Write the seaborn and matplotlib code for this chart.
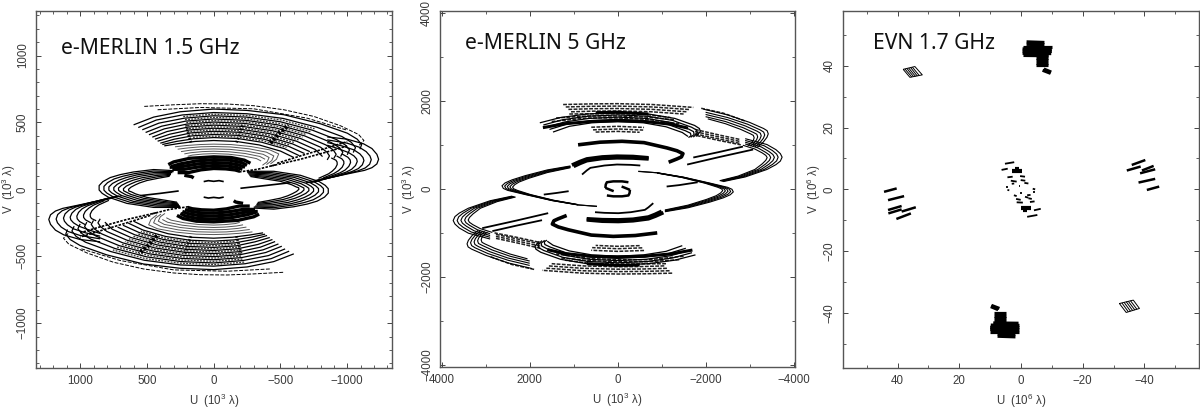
import pandas as pd
import seaborn as sns
import matplotlib.pyplot as plt
from matplotlib.ticker import MultipleLocator

# values, U and V in the units of each panel

# ---- e-MERLIN 1.5 GHz ----
m15_top_solid = [
    [(600,482),(450,540),(250,580),(0,600),(-250,590),(-525,558),(-800,490),(-1000,420),(-1075,375),(-1108,335),(-1095,300)],
    [(565,462),(430,518),(235,556),(0,574),(-250,565),(-520,530),(-770,465),(-960,395),(-1030,352),(-1062,312),(-1045,275)],
    [(535,445),(410,495),(220,532),(0,550),(-245,540),(-500,505),(-740,442),(-920,372),(-985,332),(-1017,295),(-1000,258)],
    [(510,425),(390,472),(210,510),(0,526),(-240,516),(-480,482),(-710,420),(-880,350),(-940,312),(-967,278),(-950,245)],
    [(485,408),(370,452),(200,488),(0,503),(-230,493),(-460,460),(-680,400),(-840,332),(-895,295),(-917,262),(-900,232)],
    [(460,390),(350,432),(190,466),(0,480),(-220,470),(-440,438),(-650,380),(-800,315),(-848,278),(-867,250),(-850,220)],
    [(440,375),(330,412),(180,444),(0,457),(-210,448),(-420,416),(-620,360),(-760,298),(-815,245)],
    [(420,360),(310,392),(170,422),(0,434),(-200,426),(-400,395),(-590,340),(-720,282)],
    [(400,345),(295,375),(160,400),(0,410),(-190,403),(-380,374),(-560,322),(-680,268)],
    [(385,335),(280,358),(150,378),(0,387),(-180,380),(-360,352),(-530,304),(-640,252)],
    [(370,325),(265,342),(140,358),(0,365),(-170,358),(-340,332),(-500,286),(-600,238)],
]
m15_bot_solid = [
    [(-600,-482),(-450,-540),(-250,-580),(0,-600),(250,-590),(525,-558),(800,-490),(1000,-420),(1075,-375),(1108,-335),(1095,-300)],
    [(-565,-462),(-430,-518),(-235,-556),(0,-574),(250,-565),(520,-530),(770,-465),(960,-395),(1030,-352),(1062,-312),(1045,-275)],
    [(-535,-445),(-410,-495),(-220,-532),(0,-550),(245,-540),(500,-505),(740,-442),(920,-372),(985,-332),(1017,-295),(1000,-258)],
    [(-510,-425),(-390,-472),(-210,-510),(0,-526),(240,-516),(480,-482),(710,-420),(880,-350),(940,-312),(967,-278),(950,-245)],
    [(-485,-408),(-370,-452),(-200,-488),(0,-503),(230,-493),(460,-460),(680,-400),(840,-332),(895,-295),(917,-262),(900,-232)],
    [(-460,-390),(-350,-432),(-190,-466),(0,-480),(220,-470),(440,-438),(650,-380),(800,-315),(848,-278),(867,-250),(850,-220)],
    [(-440,-375),(-330,-412),(-180,-444),(0,-457),(210,-448),(420,-416),(620,-360),(760,-298),(815,-245)],
    [(-420,-360),(-310,-392),(-170,-422),(0,-434),(200,-426),(400,-395),(590,-340),(720,-282)],
    [(-400,-345),(-295,-375),(-160,-400),(0,-410),(190,-403),(380,-374),(560,-322),(680,-268)],
    [(-385,-335),(-280,-358),(-150,-378),(0,-387),(180,-380),(360,-352),(530,-304),(640,-252)],
    [(-370,-325),(-265,-342),(-140,-358),(0,-365),(170,-358),(340,-332),(500,-286),(600,-238)],
]
m15_outer_dash = [
    [(520,620),(300,632),(100,640),(-100,638),(-300,625),(-525,595),(-750,545),(-950,475),(-1085,410),(-1125,365),(-1090,330)],
    [(420,595),(100,612),(-300,602),(-700,532),(-1000,442)],
    [(-520,-620),(-300,-632),(-100,-640),(100,-638),(300,-625),(525,-595),(750,-545),(950,-475),(1085,-410),(1125,-365),(1090,-330)],
    [(-420,-595),(-100,-612),(300,-602),(700,-532),(1000,-442)],
]
m15_mid_dash = [
    [(228,544),(0,562),(-248,552),(-510,518),(-755,453)],
    [(215,521),(0,538),(-242,528),(-490,493),(-725,431)],
    [(205,499),(0,514),(-235,505),(-470,471),(-695,410)],
    [(195,477),(0,491),(-225,481),(-450,449),(-665,390)],
    [(185,455),(0,468),(-215,459),(-430,427),(-635,370)],
    [(175,433),(0,445),(-205,437),(-410,405),(-605,350)],
    [(165,411),(0,422),(-195,414),(-390,384),(-575,331)],
    [(155,389),(0,398),(-185,391),(-370,363),(-545,313)],
    [(-228,-544),(0,-562),(248,-552),(510,-518),(755,-453)],
    [(-215,-521),(0,-538),(242,-528),(490,-493),(725,-431)],
    [(-205,-499),(0,-514),(235,-505),(470,-471),(695,-410)],
    [(-195,-477),(0,-491),(225,-481),(450,-449),(665,-390)],
    [(-185,-455),(0,-468),(215,-459),(430,-427),(635,-370)],
    [(-175,-433),(0,-445),(205,-437),(410,-405),(605,-350)],
    [(-165,-411),(0,-422),(195,-414),(390,-384),(575,-331)],
    [(-155,-389),(0,-398),(185,-391),(370,-363),(545,-313)],
]
m15_hatch = [
    [(-425,345),(-490,420),(-560,480)],
    [(425,-345),(490,-420),(560,-480)],
]
m15_hatch_small = [
    [(-170,350),(-190,400),(-215,480)],
    [(170,-350),(190,-400),(215,-480)],
    [(170,350),(185,400),(205,480)],
    [(-170,-350),(-185,-400),(-205,-480)],
]
m15_curl = [
    [(-850,392),(-1000,375),(-1123,340),(-1185,305),(-1222,262),(-1235,225),(-1222,190),(-1185,162),(-1130,142),(-1000,115),(-875,88),(-750,55)],
    [(-850,370),(-1000,345),(-1090,315),(-1142,282),(-1170,250),(-1180,222),(-1168,188),(-1135,160),(-1080,138),(-960,108),(-850,82),(-730,52)],
    [(-850,350),(-960,325),(-1050,295),(-1095,265),(-1118,238),(-1125,215),(-1113,183),(-1083,155),(-1035,133),(-925,100),(-820,75),(-710,50)],
    [(-850,330),(-930,305),(-1010,275),(-1050,250),(-1070,228),(-1075,208),(-1062,178),(-1033,150),(-990,128),(-890,95),(-790,70),(-690,48)],
    [(-960,265),(-1005,240),(-1022,220),(-1025,200),(-1012,172),(-985,145),(-945,123),(-855,90),(-760,65)],
    [(-920,250),(-960,228),(-974,210),(-975,192),(-962,165),(-935,140),(-900,118),(-820,85)],
    [(-880,235),(-915,218),(-924,204),(-925,186),(-912,160),(-888,136),(-860,116),(-785,82)],
    [(850,-392),(1000,-375),(1123,-340),(1185,-305),(1222,-262),(1235,-225),(1222,-190),(1185,-162),(1130,-142),(1000,-115),(875,-88),(750,-55)],
    [(850,-370),(1000,-345),(1090,-315),(1142,-282),(1170,-250),(1180,-222),(1168,-188),(1135,-160),(1080,-138),(960,-108),(850,-82),(730,-52)],
    [(850,-350),(960,-325),(1050,-295),(1095,-265),(1118,-238),(1125,-215),(1113,-183),(1083,-155),(1035,-133),(925,-100),(820,-75),(710,-50)],
    [(850,-330),(930,-305),(1010,-275),(1050,-250),(1070,-228),(1075,-208),(1062,-178),(1033,-150),(990,-128),(890,-95),(790,-70),(690,-48)],
    [(960,-265),(1005,-240),(1022,-220),(1025,-200),(1012,-172),(985,-145),(945,-123),(855,-90),(760,-65)],
    [(920,-250),(960,-228),(974,-210),(975,-192),(962,-165),(935,-140),(900,-118),(820,-85)],
    [(880,-235),(915,-218),(924,-204),(925,-186),(912,-160),(888,-136),(860,-116),(785,-82)],
]
m15_strip = [
    [(-475,195),(-650,250),(-850,310),(-1000,357)],
    [(-430,175),(-650,225),(-850,280),(-1000,325)],
    [(-190,130),(-330,150),(-470,185)],
    [(475,-195),(650,-250),(850,-310),(1000,-357)],
    [(430,-175),(650,-225),(850,-280),(1000,-325)],
    [(190,-130),(330,-150),(470,-185)],
]
m15_grey = [
    [(290,318),(200,328),(100,335),(0,338),(-130,335),(-280,320),(-420,295),(-487,265),(-470,225),(-425,190)],
    [(270,300),(190,310),(95,318),(0,320),(-125,317),(-265,303),(-395,278),(-450,250),(-435,215),(-395,185)],
    [(245,282),(180,292),(90,300),(0,302),(-120,299),(-250,285),(-370,262),(-415,238),(-400,205),(-365,180)],
    [(220,265),(170,274),(85,282),(0,285),(-115,281),(-235,268),(-345,246),(-385,225)],
    [(195,247),(160,256),(80,264),(0,267),(-110,263),(-220,250),(-320,230),(-355,212)],
    [(-290,-318),(-200,-328),(-100,-335),(0,-338),(130,-335),(280,-320),(420,-295),(487,-265),(470,-225),(425,-190)],
    [(-270,-300),(-190,-310),(-95,-318),(0,-320),(125,-317),(265,-303),(395,-278),(450,-250),(435,-215),(395,-185)],
    [(-245,-282),(-180,-292),(-90,-300),(0,-302),(120,-299),(250,-285),(370,-262),(415,-238),(400,-205),(365,-180)],
    [(-220,-265),(-170,-274),(-85,-282),(0,-285),(115,-281),(235,-268),(345,-246),(385,-225)],
    [(-195,-247),(-160,-256),(-80,-264),(0,-267),(110,-263),(220,-250),(320,-230),(355,-212)],
]
m15_black = [
    [(340,185),(300,205),(180,232),(0,243),(-130,238),(-230,218),(-275,195)],
    [(320,170),(250,190),(130,212),(0,222),(-120,218),(-210,200),(-250,180)],
    [(330,165),(240,170),(120,190),(0,200),(-110,196),(-190,182),(-235,165)],
    [(310,150),(220,150),(110,168),(0,178),(-100,175),(-175,163),(-215,150)],
    [(270,125),(190,125),(95,146),(0,156),(-90,153),(-160,145),(-195,135)],
    [(220,105),(165,95),(150,85)],
    [(-340,-185),(-300,-205),(-180,-232),(0,-243),(130,-238),(230,-218),(275,-195)],
    [(-320,-170),(-250,-190),(-130,-212),(0,-222),(120,-218),(210,-200),(250,-180)],
    [(-330,-165),(-240,-170),(-120,-190),(0,-200),(110,-196),(190,-182),(235,-165)],
    [(-310,-150),(-220,-150),(-110,-168),(0,-178),(100,-175),(175,-163),(215,-150)],
    [(-270,-125),(-190,-125),(-95,-146),(0,-156),(90,-153),(160,-145),(195,-135)],
    [(-220,-105),(-165,-95),(-150,-85)],
]
m15_ring = [
    [(300,140),(450,148),(600,130),(700,110),(775,88),(830,58),(858,28),(858,-5),(835,-30),(790,-58),(650,-105),(450,-135),(250,-135)],
    [(300,132),(450,137),(590,118),(680,98),(745,78),(795,50),(822,22),(822,-6),(800,-28),(755,-55),(625,-97),(435,-125),(250,-128)],
    [(310,125),(445,126),(575,108),(655,88),(712,68),(758,44),(785,18),(785,-6),(764,-26),(722,-50),(600,-90),(420,-116),(255,-122)],
    [(320,118),(440,115),(560,97),(630,78),(680,60),(722,38),(748,14),(748,-6),(728,-24),(690,-46),(575,-82),(405,-107),(260,-115)],
    [(320,112),(430,104),(540,86),(605,68),(650,50),(690,30),(713,10),(712,-8),(692,-22),(655,-42),(550,-75),(390,-98),(265,-108)],
    [(325,105),(420,94),(520,76),(580,58),(618,42),(655,24),(676,5),(675,-10),(656,-20),(620,-38),(525,-67),(375,-90),(270,-102)],
    [(330,98),(410,84),(500,66),(555,48),(590,32),(620,16),(638,0),(636,-12),(618,-18),(585,-34),(500,-60),(360,-82),(275,-96)],
    [(-300,-140),(-450,-148),(-600,-130),(-700,-110),(-775,-88),(-830,-58),(-858,-28),(-858,5),(-835,30),(-790,58),(-650,105),(-450,135),(-250,135)],
    [(-300,-132),(-450,-137),(-590,-118),(-680,-98),(-745,-78),(-795,-50),(-822,-22),(-822,6),(-800,28),(-755,55),(-625,97),(-435,125),(-250,128)],
    [(-310,-125),(-445,-126),(-575,-108),(-655,-88),(-712,-68),(-758,-44),(-785,-18),(-785,6),(-764,26),(-722,50),(-600,90),(-420,116),(-255,122)],
    [(-320,-118),(-440,-115),(-560,-97),(-630,-78),(-680,-60),(-722,-38),(-748,-14),(-748,6),(-728,24),(-690,46),(-575,82),(-405,107),(-260,115)],
    [(-320,-112),(-430,-104),(-540,-86),(-605,-68),(-650,-50),(-690,-30),(-713,-10),(-712,8),(-692,22),(-655,42),(-550,75),(-390,98),(-265,108)],
    [(-325,-105),(-420,-94),(-520,-76),(-580,-58),(-618,-42),(-655,-24),(-676,-5),(-675,10),(-656,20),(-620,38),(-525,67),(-375,90),(-270,102)],
    [(-330,-98),(-410,-84),(-500,-66),(-555,-48),(-590,-32),(-620,-16),(-638,0),(-636,12),(-618,18),(-585,34),(-500,60),(-360,82),(-275,96)],
]
m15_spokes = [
    [(550,-47),(400,-30),(262,-12)],
    [(-200,8),(-400,30),(-575,50)],
    [(75,58),(40,65),(0,60),(-40,65),(-75,58)],
    [(75,-58),(40,-65),(0,-60),(-40,-65),(-75,-58)],
]

# ---- e-MERLIN 5 GHz ----
m5_dash_rows = [
    [(1240,1915),(600,1930),(0,1935),(-800,1915),(-1720,1850)],
    [(1180,1860),(600,1875),(0,1880),(-800,1860),(-1650,1800)],
    [(1120,1805),(600,1820),(0,1825),(-800,1805),(-1580,1750)],
    [(1060,1750),(550,1765),(0,1770),(-750,1752),(-1500,1700)],
    [(1100,1700),(550,1705),(0,1705),(-600,1695),(-1200,1620)],
    [(1400,1610),(700,1655),(0,1655),(-650,1630),(-1300,1570)],
    [(1500,1530),(700,1610),(0,1610),(-650,1580),(-1400,1480)],
    [(600,1400),(0,1420),(-600,1395)],
    [(560,1340),(0,1360),(-580,1335)],
    [(500,1290),(0,1305),(-500,1285)],
    [(-1900,1830),(-2400,1720),(-2900,1540)],
    [(-1760,1350),(-2300,1225),(-2790,1120)],
    [(-1760,1300),(-2300,1180),(-2790,1075)],
    [(-1760,1250),(-2300,1135),(-2790,1030)],
    [(-1800,1210),(-2300,1100),(-2800,1000)],
    [(-1240,-1915),(-600,-1930),(0,-1935),(800,-1915),(1720,-1850)],
    [(-1180,-1860),(-600,-1875),(0,-1880),(800,-1860),(1650,-1800)],
    [(-1120,-1805),(-600,-1820),(0,-1825),(800,-1805),(1580,-1750)],
    [(-1060,-1750),(-550,-1765),(0,-1770),(750,-1752),(1500,-1700)],
    [(-1100,-1700),(-550,-1705),(0,-1705),(600,-1695),(1200,-1620)],
    [(-1400,-1610),(-700,-1655),(0,-1655),(650,-1630),(1300,-1570)],
    [(-1500,-1530),(-700,-1610),(0,-1610),(650,-1580),(1400,-1480)],
    [(-600,-1400),(0,-1420),(600,-1395)],
    [(-560,-1340),(0,-1360),(580,-1335)],
    [(-500,-1290),(0,-1305),(500,-1285)],
    [(1900,-1830),(2400,-1720),(2900,-1540)],
    [(1760,-1350),(2300,-1225),(2790,-1120)],
    [(1760,-1300),(2300,-1180),(2790,-1075)],
    [(1760,-1250),(2300,-1135),(2790,-1030)],
    [(1800,-1210),(2300,-1100),(2800,-1000)],
]
m5_top_arcs = [
    [(1770,1500),(1300,1620),(700,1700),(0,1730),(-700,1700),(-1300,1600),(-1750,1440),(-1860,1370),(-1880,1300),(-1780,1190)],
    [(1690,1450),(1250,1570),(680,1650),(0,1680),(-680,1650),(-1250,1555),(-1680,1400),(-1795,1335),(-1810,1265),(-1720,1175)],
    [(1620,1400),(1200,1520),(650,1600),(0,1630),(-650,1600),(-1200,1510),(-1610,1360),(-1725,1300),(-1740,1235),(-1660,1170)],
    [(1550,1350),(1150,1470),(620,1550),(0,1580),(-620,1550),(-1150,1460),(-1540,1320),(-1655,1265),(-1670,1205),(-1610,1165)],
    [(1470,1290),(1100,1420),(590,1500),(0,1530),(-590,1500),(-1100,1410),(-1470,1280),(-1600,1190)],
    [(-1770,-1500),(-1300,-1620),(-700,-1700),(0,-1730),(700,-1700),(1300,-1600),(1750,-1440),(1860,-1370),(1880,-1300),(1780,-1190)],
    [(-1690,-1450),(-1250,-1570),(-680,-1650),(0,-1680),(680,-1650),(1250,-1555),(1680,-1400),(1795,-1335),(1810,-1265),(1720,-1175)],
    [(-1620,-1400),(-1200,-1520),(-650,-1600),(0,-1630),(650,-1600),(1200,-1510),(1610,-1360),(1725,-1300),(1740,-1235),(1660,-1170)],
    [(-1550,-1350),(-1150,-1470),(-620,-1550),(0,-1580),(620,-1550),(1150,-1460),(1540,-1320),(1655,-1265),(1670,-1205),(1610,-1165)],
    [(-1470,-1290),(-1100,-1420),(-590,-1500),(0,-1530),(590,-1500),(1100,-1410),(1470,-1280),(1600,-1190)],
]
m5_dark_rows = [
    [(1700,1390),(1200,1480),(600,1530),(0,1545),(-600,1530),(-1200,1470),(-1600,1380)],
    [(500,1730),(0,1740),(-700,1700)],
    [(-1700,-1390),(-1200,-1480),(-600,-1530),(0,-1545),(600,-1530),(1200,-1470),(1600,-1380)],
    [(-500,-1730),(0,-1740),(700,-1700)],
]
m5_side_arcs = [
    [(-1950,1810),(-2500,1680),(-3000,1510),(-3320,1370),(-3400,1320),(-3425,1250),(-3395,1170),(-3310,1060),(-3170,940)],
    [(-2000,1740),(-2500,1620),(-2950,1470),(-3240,1340),(-3320,1290),(-3345,1225),(-3315,1150),(-3240,1055),(-3120,950)],
    [(-2000,1690),(-2500,1570),(-2900,1430),(-3170,1310),(-3245,1265),(-3265,1205),(-3235,1130),(-3170,1050),(-3070,960)],
    [(-2000,1640),(-2450,1530),(-2850,1390),(-3090,1280),(-3165,1240),(-3185,1180),(-3160,1115),(-3105,1045),(-3020,970)],
    [(-2050,1590),(-2450,1480),(-2800,1350),(-3020,1250),(-3085,1215),(-3105,1160),(-3085,1100),(-3035,1040),(-2960,980)],
    [(1950,-1810),(2500,-1680),(3000,-1510),(3320,-1370),(3400,-1320),(3425,-1250),(3395,-1170),(3310,-1060),(3170,-940)],
    [(2000,-1740),(2500,-1620),(2950,-1470),(3240,-1340),(3320,-1290),(3345,-1225),(3315,-1150),(3240,-1055),(3120,-950)],
    [(2000,-1690),(2500,-1570),(2900,-1430),(3170,-1310),(3245,-1265),(3265,-1205),(3235,-1130),(3170,-1050),(3070,-960)],
    [(2000,-1640),(2450,-1530),(2850,-1390),(3090,-1280),(3165,-1240),(3185,-1180),(3160,-1115),(3105,-1045),(3020,-970)],
    [(2050,-1590),(2450,-1480),(2800,-1350),(3020,-1250),(3085,-1215),(3105,-1160),(3085,-1100),(3035,-1040),(2960,-980)],
    [(-2900,1140),(-3395,1007),(-3600,890),(-3700,800),(-3740,720),(-3700,630),(-3600,550),(-3395,440),(-2900,270),(-2400,165)],
    [(-2900,1100),(-3330,980),(-3520,870),(-3615,790),(-3650,720),(-3615,635),(-3520,555),(-3330,440),(-2860,275),(-2380,170)],
    [(-2900,1060),(-3260,955),(-3440,850),(-3530,780),(-3565,715),(-3530,640),(-3440,560),(-3260,440),(-2820,280),(-2360,175)],
    [(-2900,1020),(-3190,930),(-3365,830),(-3450,770),(-3480,712),(-3450,645),(-3365,565),(-3190,440),(-2780,285),(-2340,180)],
    [(-2850,990),(-3120,905),(-3290,815),(-3370,760),(-3400,710),(-3370,650),(-3290,570),(-3120,440),(-2740,290),(-2320,185)],
    [(2900,-1140),(3395,-1007),(3600,-890),(3700,-800),(3740,-720),(3700,-630),(3600,-550),(3395,-440),(2900,-270),(2400,-165)],
    [(2900,-1100),(3330,-980),(3520,-870),(3615,-790),(3650,-720),(3615,-635),(3520,-555),(3330,-440),(2860,-275),(2380,-170)],
    [(2900,-1060),(3260,-955),(3440,-850),(3530,-780),(3565,-715),(3530,-640),(3440,-560),(3260,-440),(2820,-280),(2360,-175)],
    [(2900,-1020),(3190,-930),(3365,-830),(3450,-770),(3480,-712),(3450,-645),(3365,-565),(3190,-440),(2780,-285),(2340,-180)],
    [(2850,-990),(3120,-905),(3290,-815),(3370,-760),(3400,-710),(3370,-650),(3290,-570),(3120,-440),(2740,-290),(2320,-185)],
]
m5_ring = [
    [(1075,520),(1600,430),(2100,300),(2400,205),(2560,135),(2630,70),(2600,10),(2500,-35),(2100,-130),(1500,-265),(900,-365),(470,-400)],
    [(1075,510),(1600,415),(2080,285),(2360,192),(2505,125),(2570,62),(2540,8),(2445,-35),(2070,-130),(1490,-265),(900,-365),(470,-395)],
    [(1075,500),(1600,400),(2060,270),(2320,180),(2450,115),(2510,55),(2482,6),(2390,-35),(2040,-130),(1480,-262),(900,-362)],
    [(1075,490),(1600,385),(2040,255),(2280,168),(2395,105),(2450,48),(2424,4),(2335,-35),(2010,-130),(1470,-260),(900,-360)],
    [(1075,480),(1600,370),(2020,240),(2240,156),(2340,95),(2390,40),(2366,2),(2280,-35),(1980,-130),(1460,-258),(900,-358)],
    [(-1075,-520),(-1600,-430),(-2100,-300),(-2400,-205),(-2560,-135),(-2630,-70),(-2600,-10),(-2500,35),(-2100,130),(-1500,265),(-900,365),(-470,400)],
    [(-1075,-510),(-1600,-415),(-2080,-285),(-2360,-192),(-2505,-125),(-2570,-62),(-2540,-8),(-2445,35),(-2070,130),(-1490,265),(-900,365),(-470,395)],
    [(-1075,-500),(-1600,-400),(-2060,-270),(-2320,-180),(-2450,-115),(-2510,-55),(-2482,-6),(-2390,35),(-2040,130),(-1480,262),(-900,362)],
    [(-1075,-490),(-1600,-385),(-2040,-255),(-2280,-168),(-2395,-105),(-2450,-48),(-2424,-4),(-2335,35),(-2010,130),(-1470,260),(-900,360)],
    [(-1075,-480),(-1600,-370),(-2020,-240),(-2240,-156),(-2340,-95),(-2390,-40),(-2366,-2),(-2280,35),(-1980,130),(-1460,258),(-900,358)],
]
m5_thin = [
    [(810,325),(700,420),(620,477),(300,530),(15,553),(-300,545),(-515,530)],
    [(-810,-325),(-700,-420),(-620,-477),(-300,-530),(-15,-553),(300,-545),(515,-530)],
    [(-1720,712),(-2300,835),(-2850,960)],
    [(-1580,552),(-2300,720),(-3080,893)],
    [(1720,-712),(2300,-835),(2850,-960)],
    [(1580,-552),(2300,-720),(3080,-893)],
    [(1680,-130),(1400,-95),(1114,-53)],
    [(-1114,53),(-1400,85),(-1820,150)],
]
m5_thick = [
    [(900,1000),(400,1060),(-100,1080),(-600,1050),(-1120,930),(-1350,865),(-1485,800),(-1450,725),(-1350,680),(-1160,605)],
    [(-900,-1000),(-400,-1060),(100,-1080),(600,-1050),(1120,-930),(1350,-865),(1485,-800),(1450,-725),(1350,-680),(1160,-605)],
    [(1040,540),(860,620),(700,680),(350,725),(15,742),(-350,735),(-705,705)],
    [(1000,510),(850,580),(700,640),(350,690),(15,705),(-350,700),(-705,680)],
    [(-1040,-540),(-860,-620),(-700,-680),(-350,-725),(-15,-742),(350,-735),(705,-705)],
    [(-1000,-510),(-850,-580),(-700,-640),(-350,-690),(-15,-705),(350,-700),(705,-680)],
]
m5_centre = [
    [(280,20),(270,100),(245,150),(100,170),(-100,170),(-245,150)],
    [(280,23),(150,-30),(90,-53)],
    [(-280,-20),(-270,-100),(-245,-150),(-100,-170),(100,-170),(245,-150)],
    [(-280,-23),(-150,30),(-90,53)],
]

# ---- EVN 1.7 GHz ----
evn_left_right = [
    [(44.4,-0.8),(40.3,0.3)], [(43.1,-3.5),(37.9,-2.2)], [(43.1,-6.7),(38.7,-5.4)],
    [(43.0,-7.8),(38.7,-6.5)], [(38.7,-7.2),(34.1,-5.8)], [(40.4,-9.6),(35.7,-7.8)],
    [(-40.8,-0.2),(-44.8,0.9)], [(-38.1,2.2),(-43.5,3.4)], [(-38.6,5.2),(-43.5,6.5)],
    [(-39.2,6.1),(-43.0,7.6)], [(-34.3,6.1),(-38.8,7.4)], [(-35.9,7.9),(-40.3,9.5)],
]
evn_centre = [
    [(5.2,8.3),(2.2,8.8)], [(6.3,6.3),(4.3,6.7)], [(4.4,3.9),(2.7,4.1)], [(0.3,4.3),(-1.3,4.1)],
    [(3.3,2.8),(1.4,2.5)], [(0.1,3.0),(-1.4,2.8)], [(3.0,1.8),(2.2,1.9)], [(-1.1,2.1),(-2.4,1.9)],
    [(4.9,0.8),(4.3,0.8)], [(0.8,1.0),(0.3,1.0)], [(4.4,-0.2),(3.8,-0.3)], [(-3.8,0.2),(-4.6,0.0)],
    [(-4.0,-1.0),(-4.5,-1.0)], [(0.3,-1.1),(-0.3,-1.1)], [(2.3,-1.9),(1.4,-2.2)], [(-2.0,-1.9),(-3.1,-1.8)],
    [(-1.3,-2.4),(-2.4,-2.7)], [(1.6,-3.1),(0.1,-3.4)], [(-2.4,-2.9),(-3.5,-3.1)], [(1.4,-4.2),(-0.6,-4.3)],
    [(-2.9,-4.1),(-4.4,-3.9)], [(-4.2,-6.8),(-6.4,-6.3)], [(-2.0,-8.9),(-5.3,-8.3)],
]
evn_centre_blobs = [
    [(3.0,6.0),(-0.2,6.0)], [(2.0,6.6),(0.5,6.6)],
    [(0.1,-6.2),(-3.1,-6.2)], [(-0.5,-6.8),(-2.0,-6.8)],
]
evn_top_rows = [
    [(-1.8,47.8),(-7.6,47.6)], [(-1.8,47.0),(-7.6,46.9)], [(-0.5,46.2),(-10.0,46.2)],
    [(-0.5,45.5),(-10.0,45.4)], [(-0.5,44.8),(-10.0,44.7)], [(-0.5,44.1),(-9.8,44.0)],
    [(-0.8,43.4),(-9.0,43.3)], [(-4.9,42.6),(-8.9,42.6)], [(-4.9,41.8),(-8.9,41.8)],
    [(-4.9,41.0),(-8.9,41.0)], [(-4.9,40.2),(-8.6,40.2)], [(-7.0,38.6),(-9.6,37.6)],
    [(-7.4,39.0),(-9.8,38.0)],
]
evn_bot_rows = [
    [(1.8,-47.8),(7.6,-47.6)], [(1.8,-47.0),(7.6,-46.9)], [(0.5,-46.2),(10.0,-46.2)],
    [(0.5,-45.5),(10.0,-45.4)], [(0.5,-44.8),(10.0,-44.7)], [(0.5,-44.1),(9.8,-44.0)],
    [(0.8,-43.4),(9.0,-43.3)], [(4.9,-42.6),(8.9,-42.6)], [(4.9,-41.8),(8.9,-41.8)],
    [(4.9,-41.0),(8.9,-41.0)], [(4.9,-40.2),(8.6,-40.2)], [(7.0,-38.6),(9.6,-37.6)],
    [(7.4,-39.0),(9.8,-38.0)],
]
evn_grids = [
    [(38.2,38.9),(34.4,39.8),(32.0,37.1),(36.0,36.3),(38.2,38.9)],
    [(37.6,39.0),(35.4,36.4)], [(37.0,39.2),(34.8,36.5)], [(36.4,39.3),(34.2,36.6)],
    [(35.8,39.5),(33.6,36.7)], [(35.2,39.6),(33.0,36.9)],
    [(-31.9,-37.0),(-36.4,-35.9),(-38.4,-38.6),(-34.1,-39.9),(-31.9,-37.0)],
    [(-32.7,-36.8),(-34.8,-39.7)], [(-33.4,-36.6),(-35.5,-39.5)], [(-34.1,-36.4),(-36.2,-39.3)],
    [(-34.8,-36.3),(-36.9,-39.1)], [(-35.5,-36.1),(-37.6,-38.9)],
]

sns.set_theme(style="white")
plt.rcParams["font.family"] = ["Liberation Sans", "DejaVu Sans"]
plt.rcParams["mathtext.default"] = "regular"
plt.rcParams["lines.solid_capstyle"] = "butt"
plt.rcParams["lines.dash_capstyle"] = "butt"
plt.rcParams["lines.solid_joinstyle"] = "round"


def draw(ax, arcs, lw, ls="-", color="black"):
    rows = [(i, u, v) for i, arc in enumerate(arcs) for u, v in arc]
    df = pd.DataFrame(rows, columns=["arc", "u", "v"])
    sns.lineplot(data=df, x="u", y="v", units="arc", estimator=None, sort=False,
                 color=color, linewidth=lw, linestyle=ls, legend=False, ax=ax)


def frame(ax, lim, major, minor, power, title, title_x, title_y, ylabel_x):
    ax.set_xlim(lim, -lim)
    ax.set_ylim(-lim, lim)
    ax.xaxis.set_major_locator(MultipleLocator(major))
    ax.yaxis.set_major_locator(MultipleLocator(major))
    ax.xaxis.set_minor_locator(MultipleLocator(minor))
    ax.yaxis.set_minor_locator(MultipleLocator(minor))
    ax.tick_params(which="major", direction="in", length=3.5, width=0.7, color="#444444",
                   top=True, right=True, bottom=True, left=True, labelsize=8.3, labelcolor="#3a3a3a", pad=5)
    ax.tick_params(which="minor", direction="in", length=2, width=0.6, color="#444444",
                   top=True, right=True, bottom=True, left=True)
    for t in ax.get_yticklabels():
        t.set_rotation(90)
        t.set_va("center")
    for s in ax.spines.values():
        s.set_color("#555555")
        s.set_linewidth(1.0)
    ax.set_xlabel("U  (10$^{%d}$ λ)" % power, fontsize=8.3, color="#3a3a3a")
    ax.xaxis.set_label_coords(0.5, -0.068)
    ax.set_ylabel("V  (10$^{%d}$ λ)" % power, fontsize=8.3, color="#3a3a3a")
    ax.yaxis.set_label_coords(ylabel_x, 0.5)
    ax.text(title_x, title_y, title, transform=ax.transAxes, family="Noto Sans",
            fontsize=15.2, color="#111111", va="center", ha="left")


fig = plt.figure(figsize=(12, 4.07), dpi=100)
ax1 = fig.add_axes([35.7 / 1200, 1 - 367.7 / 407, 356 / 1200, 356.7 / 407])
ax2 = fig.add_axes([440 / 1200, 1 - 366.7 / 407, 355.3 / 1200, 355.7 / 407])
ax3 = fig.add_axes([842.7 / 1200, 1 - 367.7 / 407, 356.6 / 1200, 356.7 / 407])

draw(ax1, m15_grey, 0.7, color="#555555")
draw(ax1, m15_mid_dash, 0.9, ls=(0, (1.5, 1)), color="#333333")
draw(ax1, m15_outer_dash, 0.7, ls=(0, (4, 1.5)))
draw(ax1, m15_strip, 1.2, ls=(0, (1.5, 0.8)))
draw(ax1, m15_hatch, 3, ls=(0, (0.6, 0.4)))
draw(ax1, m15_hatch_small, 2, ls=(0, (0.6, 0.6)), color="#222222")
draw(ax1, m15_top_solid, 0.9)
draw(ax1, m15_bot_solid, 0.9)
draw(ax1, m15_curl, 0.9)
draw(ax1, m15_ring, 0.9)
draw(ax1, m15_black, 2.4)
draw(ax1, m15_spokes, 1.2)
frame(ax1, 1333, 500, 100, 3, "e-MERLIN 1.5 GHz", 0.07, 0.896, -0.05)

draw(ax2, m5_dash_rows, 1.1, ls=(0, (2.5, 0.9)), color="#222222")
draw(ax2, m5_top_arcs, 0.9)
draw(ax2, m5_dark_rows, 2.2)
draw(ax2, m5_side_arcs, 0.8)
draw(ax2, m5_ring, 0.8)
draw(ax2, m5_thin, 1.3)
draw(ax2, m5_thick, 2.6)
draw(ax2, m5_centre, 1.8)
frame(ax2, 4040, 2000, 1000, 3, "e-MERLIN 5 GHz", 0.07, 0.91, -0.062)

draw(ax3, evn_left_right, 1.8)
draw(ax3, evn_centre, 1.3)
draw(ax3, evn_centre_blobs, 3)
draw(ax3, evn_top_rows, 2.3)
draw(ax3, evn_bot_rows, 2.3)
draw(ax3, evn_grids, 0.7)
frame(ax3, 57.8, 20, 10, 6, "EVN 1.7 GHz", 0.085, 0.91, -0.055)

fig.savefig("out.png", dpi=100)
